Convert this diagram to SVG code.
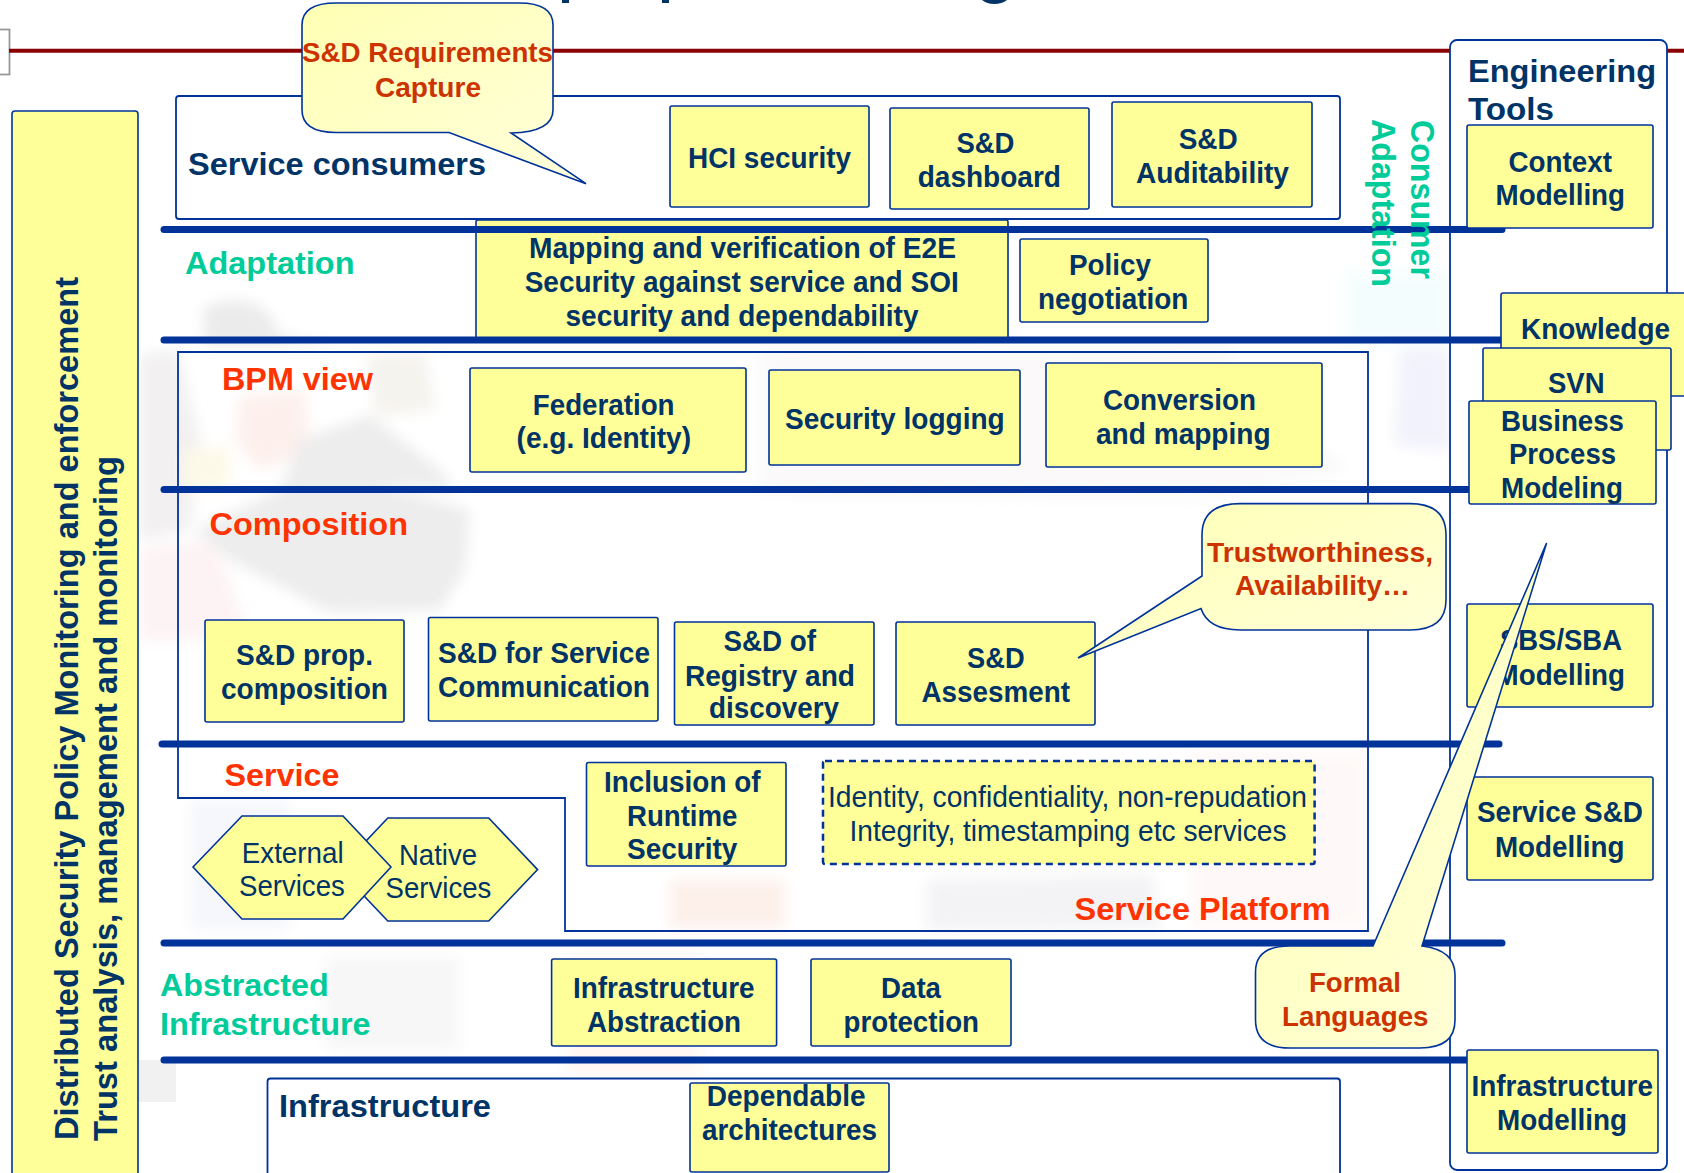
<svg xmlns="http://www.w3.org/2000/svg" width="1684" height="1173" viewBox="0 0 1684 1173">
<style>
text{font-family:"Liberation Sans",Arial,sans-serif;font-weight:700;font-size:29px;fill:#003366}
text:not([transform]){transform:translateY(0.5px)}
.r{font-weight:400}
.h{font-size:32px}
.red{fill:#ff3300;font-size:32px}
.org{fill:#cc3300;font-size:28px}
.grn{fill:#00cc99;font-size:32px}
.box{fill:#ffff99;stroke:#003399;stroke-width:1.6}
.out{fill:none;stroke:#003399;stroke-width:1.8}
.call{fill:url(#cg);stroke:#003399;stroke-width:1.6}
.band{stroke:#003399;stroke-width:7;stroke-linecap:round;fill:none}
</style>
<defs>
<linearGradient id="cg" x1="0" y1="0" x2="1" y2="1"><stop offset="0" stop-color="#ffffb4"/><stop offset="1" stop-color="#ffffdc"/></linearGradient>
<filter id="bl" x="-30%" y="-30%" width="160%" height="160%"><feGaussianBlur stdDeviation="7"/></filter>
</defs>
<rect width="1684" height="1173" fill="#ffffff"/>
<g id="ghost" filter="url(#bl)">
<path d="M140 355L178 350L200 440L190 530L140 540Z" fill="#f2f0f0"/>
<path d="M140 547L215 540L250 640L140 640Z" fill="#fdf3f4"/>
<path d="M203 310Q215 298 250 302Q275 312 278 335L340 345L205 345Z" fill="#ebebeb"/>
<path d="M240 397L305 390L310 450L260 470L235 440Z" fill="#fdf0ec"/>
<path d="M183 450L230 447L228 487L183 490Z" fill="#fdf9e8"/>
<path d="M367 355L425 352L435 410L375 415Z" fill="#f5f3ee"/>
<path d="M300 440L370 415L440 470L455 490L380 485L470 510L465 570L440 610L330 612L230 560L195 530L280 490Z" fill="#ededed"/>
<path d="M760 350L1230 345L1230 375L1350 470L1200 500L760 495Z" fill="#fbf9f9"/>
<path d="M1345 272L1450 272L1450 345L1345 345Z" fill="#f4fdfd"/>
<path d="M1400 350L1450 350L1450 450L1395 445Z" fill="#f1f2fb"/>
<path d="M670 880L785 880L785 928L670 928Z" fill="#fdf0ea"/>
<path d="M927 880L1152 875L1160 928L927 930Z" fill="#f3f2f4"/>
<path d="M566 953L702 953L702 1075L566 1075Z" fill="#fef7f4"/>
<path d="M325 957L460 957L460 1050L325 1050Z" fill="#f7f7f8"/>
<path d="M190 800L290 800L290 930L190 930Z" fill="#f6f7fc"/>
<path d="M1190 750L1370 750L1370 930L1190 930Z" fill="#fef9f8"/>
</g>
<rect id="ghost-corner" x="138" y="1060" width="38" height="42" fill="#f1f1f1"/>
<g id="title-fragments" fill="#003366">
<rect x="562" y="0" width="7" height="3"/><rect x="662" y="0" width="7" height="3"/><path d="M982 0H1007Q1002 4 994 4Q987 4 982 0Z"/>
</g>
<rect id="corner-box" x="-4" y="29.500" width="13.500" height="45" fill="#ffffff" stroke="#999999" stroke-width="1.800"/>
<line id="title-rule" x1="9" y1="50.800" x2="1684" y2="50.800" stroke="#8b0000" stroke-width="4"/>

<g id="engineering-tools"><rect x="1450" y="40" width="217" height="1130" rx="7" fill="#ffffff" stroke="#003399" stroke-width="1.800"/>
<text class="h" x="1468" y="81" textLength="188" lengthAdjust="spacingAndGlyphs">Engineering</text>
<text class="h" x="1468" y="119" textLength="86" lengthAdjust="spacingAndGlyphs">Tools</text></g>

<g id="left-bar"><rect class="box" x="12" y="111" width="126" height="1070" rx="3"/>
<text transform="translate(78,1140) rotate(-90)" style="font-size:34px" textLength="863" lengthAdjust="spacingAndGlyphs">Distributed Security Policy Monitoring and enforcement</text>
<text transform="translate(117,1141) rotate(-90)" style="font-size:34px" textLength="685" lengthAdjust="spacingAndGlyphs">Trust analysis, management and monitoring</text></g>

<g id="service-consumers"><rect class="out" x="176" y="96" width="1164" height="123" rx="3"/>
<text class="h" x="188" y="174" textLength="298" lengthAdjust="spacingAndGlyphs">Service consumers</text></g>
<g id="service-platform"><path class="out" d="M178 352H1368V931H565V798H178Z"/>
<text class="red" x="1074.500" y="919" textLength="256" lengthAdjust="spacingAndGlyphs">Service Platform</text></g>
<g id="infrastructure"><rect x="267.500" y="1078.500" width="1072.500" height="110" rx="3" fill="#ffffff" stroke="#003399" stroke-width="1.800"/>
<text class="h" x="279" y="1116" textLength="212" lengthAdjust="spacingAndGlyphs">Infrastructure</text></g>

<g id="mapping"><rect class="box" x="476" y="220" width="532" height="120" rx="2"/>
<text x="529" y="257" textLength="427" lengthAdjust="spacingAndGlyphs">Mapping and verification of E2E</text>
<text x="524.700" y="291" textLength="434" lengthAdjust="spacingAndGlyphs">Security against service and SOI</text>
<text x="565.500" y="325" textLength="353" lengthAdjust="spacingAndGlyphs">security and dependability</text></g>

<g id="connectors">
<line class="band" x1="164" y1="229.600" x2="1502" y2="229.600"/>
<line class="band" x1="164" y1="340" x2="1501" y2="340"/>
<line class="band" x1="164" y1="489.600" x2="1470" y2="489.600"/>
<line class="band" x1="162" y1="744" x2="1499" y2="744"/>
<line class="band" x1="164" y1="943" x2="1502" y2="943"/>
<line class="band" x1="164" y1="1060" x2="1470" y2="1060"/>
</g>

<g id="layer-labels">
<text class="grn" x="185" y="273" textLength="169.500" lengthAdjust="spacingAndGlyphs">Adaptation</text>
<text class="red" x="222" y="389" textLength="151" lengthAdjust="spacingAndGlyphs">BPM view</text>
<text class="red" x="209.500" y="534.400" textLength="198.500" lengthAdjust="spacingAndGlyphs">Composition</text>
<text class="red" x="224.500" y="785.500" textLength="115" lengthAdjust="spacingAndGlyphs">Service</text>
<text class="grn" x="160" y="995" textLength="168.700" lengthAdjust="spacingAndGlyphs">Abstracted</text>
<text class="grn" x="160" y="1034.600" textLength="210.600" lengthAdjust="spacingAndGlyphs">Infrastructure</text>
<text class="grn" transform="translate(1411,120) rotate(90)" style="font-size:34px" textLength="159" lengthAdjust="spacingAndGlyphs">Consumer</text>
<text class="grn" transform="translate(1372,119) rotate(90)" style="font-size:34px" textLength="168" lengthAdjust="spacingAndGlyphs">Adaptation</text>
</g>

<g id="hci"><rect class="box" x="670" y="106" width="199" height="101" rx="2"/>
<text x="688" y="167.500" textLength="163" lengthAdjust="spacingAndGlyphs">HCI security</text></g>
<g id="dashboard"><rect class="box" x="890" y="108" width="199" height="101" rx="2"/>
<text x="956.400" y="152.400" textLength="58" lengthAdjust="spacingAndGlyphs">S&amp;D</text>
<text x="917.700" y="186" textLength="143.300" lengthAdjust="spacingAndGlyphs">dashboard</text></g>
<g id="auditability"><rect class="box" x="1112" y="102" width="200" height="105" rx="2"/>
<text x="1178.700" y="148.700" textLength="59" lengthAdjust="spacingAndGlyphs">S&amp;D</text>
<text x="1136" y="182" textLength="153" lengthAdjust="spacingAndGlyphs">Auditability</text></g>
<g id="policy"><rect class="box" x="1020" y="239" width="188" height="83" rx="2"/>
<text x="1069" y="274" textLength="82" lengthAdjust="spacingAndGlyphs">Policy</text>
<text x="1038" y="308" textLength="150.400" lengthAdjust="spacingAndGlyphs">negotiation</text></g>
<g id="federation"><rect class="box" x="470" y="368" width="276" height="104" rx="2"/>
<text x="532.800" y="414" textLength="141.700" lengthAdjust="spacingAndGlyphs">Federation</text>
<text x="516.600" y="447" textLength="174.400" lengthAdjust="spacingAndGlyphs">(e.g. Identity)</text></g>
<g id="logging"><rect class="box" x="769" y="370" width="251" height="95" rx="2"/>
<text x="785" y="428" textLength="219.700" lengthAdjust="spacingAndGlyphs">Security logging</text></g>
<g id="conversion"><rect class="box" x="1046" y="363" width="276" height="104" rx="2"/>
<text x="1103" y="409" textLength="153" lengthAdjust="spacingAndGlyphs">Conversion</text>
<text x="1096" y="443" textLength="174.600" lengthAdjust="spacingAndGlyphs">and mapping</text></g>

<g id="context"><rect class="box" x="1467" y="125" width="186" height="103" rx="2"/>
<text x="1508.500" y="171" textLength="103.500" lengthAdjust="spacingAndGlyphs">Context</text>
<text x="1495.600" y="204" textLength="129.400" lengthAdjust="spacingAndGlyphs">Modelling</text></g>
<g id="knowledge"><rect class="box" x="1501" y="293" width="195" height="103" rx="2"/>
<text x="1521" y="338.700" textLength="149" lengthAdjust="spacingAndGlyphs">Knowledge</text></g>
<g id="svn"><rect class="box" x="1483" y="348" width="188" height="102" rx="2"/>
<text x="1548" y="392" textLength="56.600" lengthAdjust="spacingAndGlyphs">SVN</text></g>
<g id="bpm"><rect class="box" x="1469" y="401" width="187" height="103" rx="2"/>
<text x="1501" y="430" textLength="123" lengthAdjust="spacingAndGlyphs">Business</text>
<text x="1509" y="463" textLength="107" lengthAdjust="spacingAndGlyphs">Process</text>
<text x="1501" y="497" textLength="122" lengthAdjust="spacingAndGlyphs">Modeling</text></g>
<g id="sbs"><rect class="box" x="1467" y="604" width="186" height="103" rx="2"/>
<text x="1500" y="649.500" textLength="122" lengthAdjust="spacingAndGlyphs">SBS/SBA</text>
<text x="1495.600" y="684" textLength="129.400" lengthAdjust="spacingAndGlyphs">Modelling</text></g>
<g id="service-modelling"><rect class="box" x="1467" y="777" width="186" height="103" rx="2"/>
<text x="1477" y="821.600" textLength="166" lengthAdjust="spacingAndGlyphs">Service S&amp;D</text>
<text x="1495" y="856" textLength="129.500" lengthAdjust="spacingAndGlyphs">Modelling</text></g>
<g id="infra-modelling"><rect class="box" x="1467" y="1050" width="191" height="103" rx="2"/>
<text x="1471.400" y="1095.600" textLength="181.600" lengthAdjust="spacingAndGlyphs">Infrastructure</text>
<text x="1497" y="1129" textLength="130" lengthAdjust="spacingAndGlyphs">Modelling</text></g>

<g id="sd-prop"><rect class="box" x="205" y="620" width="199" height="102" rx="2"/>
<text x="236" y="664" textLength="137" lengthAdjust="spacingAndGlyphs">S&amp;D prop.</text>
<text x="221" y="698.500" textLength="167" lengthAdjust="spacingAndGlyphs">composition</text></g>
<g id="sd-comm"><rect class="box" x="428.500" y="617.500" width="229.500" height="103.500" rx="2"/>
<text x="438" y="662.500" textLength="212" lengthAdjust="spacingAndGlyphs">S&amp;D for Service</text>
<text x="438" y="696.700" textLength="212" lengthAdjust="spacingAndGlyphs">Communication</text></g>
<g id="sd-registry"><rect class="box" x="674.500" y="622" width="199.500" height="103" rx="2"/>
<text x="723.400" y="650.600" textLength="92.600" lengthAdjust="spacingAndGlyphs">S&amp;D of</text>
<text x="685" y="685" textLength="170" lengthAdjust="spacingAndGlyphs">Registry and</text>
<text x="709" y="717.500" textLength="130" lengthAdjust="spacingAndGlyphs">discovery</text></g>
<g id="sd-assesment"><rect class="box" x="896" y="622" width="199" height="103" rx="2"/>
<text x="967" y="667" textLength="57.600" lengthAdjust="spacingAndGlyphs">S&amp;D</text>
<text x="921.500" y="701" textLength="148.500" lengthAdjust="spacingAndGlyphs">Assesment</text></g>
<g id="runtime"><rect class="box" x="586.500" y="762.500" width="199.500" height="103.500" rx="2"/>
<text x="604" y="791.500" textLength="156.500" lengthAdjust="spacingAndGlyphs">Inclusion of</text>
<text x="627" y="825" textLength="110.400" lengthAdjust="spacingAndGlyphs">Runtime</text>
<text x="627" y="858" textLength="110.400" lengthAdjust="spacingAndGlyphs">Security</text></g>
<g id="identity"><rect x="823" y="761" width="491.600" height="103" rx="2" fill="#ffff99" stroke="#003399" stroke-width="2.500" stroke-dasharray="7 5"/>
<text class="r" x="828" y="806.700" textLength="479" lengthAdjust="spacingAndGlyphs">Identity, confidentiality, non-repudation</text>
<text class="r" x="849.500" y="840" textLength="437" lengthAdjust="spacingAndGlyphs">Integrity, timestamping etc services</text></g>
<g id="native"><polygon class="box" points="537.600,869.600 488.700,818 387.800,818 339,869.600 387.800,921 488.700,921"/>
<text class="r" x="399" y="864" textLength="78" lengthAdjust="spacingAndGlyphs">Native</text>
<text class="r" x="385.600" y="897.400" textLength="105.800" lengthAdjust="spacingAndGlyphs">Services</text></g>
<g id="external"><polygon class="box" points="193,867 242,816 343,816 391,867 343,919 242,919"/>
<text class="r" x="241.700" y="862" textLength="102" lengthAdjust="spacingAndGlyphs">External</text>
<text class="r" x="239" y="895" textLength="105.800" lengthAdjust="spacingAndGlyphs">Services</text></g>
<g id="infra-abstraction"><rect class="box" x="551.600" y="959" width="225" height="87" rx="2"/>
<text x="573" y="997.400" textLength="181.600" lengthAdjust="spacingAndGlyphs">Infrastructure</text>
<text x="587" y="1031" textLength="154" lengthAdjust="spacingAndGlyphs">Abstraction</text></g>
<g id="data-protection"><rect class="box" x="811" y="959" width="200" height="87" rx="2"/>
<text x="881" y="997.400" textLength="60" lengthAdjust="spacingAndGlyphs">Data</text>
<text x="843.600" y="1031" textLength="135.400" lengthAdjust="spacingAndGlyphs">protection</text></g>
<g id="dependable"><rect class="box" x="690" y="1083" width="199" height="89" rx="2"/>
<text x="706.700" y="1105" textLength="158.900" lengthAdjust="spacingAndGlyphs">Dependable</text>
<text x="702" y="1139" textLength="175" lengthAdjust="spacingAndGlyphs">architectures</text></g>

<g id="callout-requirements"><path class="call" d="M336 3H519Q553 3 553 25V110Q553 132 511 133L586 183.700L449 132.500H336Q302 132.500 302 110V25Q302 3 336 3Z"/>
<text class="org" x="302" y="61.300" textLength="251" lengthAdjust="spacingAndGlyphs">S&amp;D Requirements</text>
<text class="org" x="375" y="96" textLength="106" lengthAdjust="spacingAndGlyphs">Capture</text></g>
<g id="callout-trust"><path class="call" d="M1240 503.600H1410Q1446 503.600 1446 535V600Q1446 630 1410 630H1240Q1208 630 1201 608.600L1078 658L1202 576V535Q1202 503.600 1240 503.600Z"/>
<text class="org" x="1207" y="561" textLength="226" lengthAdjust="spacingAndGlyphs">Trustworthiness,</text>
<text class="org" x="1235" y="594" textLength="175" lengthAdjust="spacingAndGlyphs">Availability…</text></g>
<g id="callout-formal"><path class="call" d="M1290 946H1373L1546.600 543L1422 946Q1455 950 1455 975V1020Q1455 1048 1420 1048H1290Q1255.500 1048 1255.500 1020V972Q1255.500 946 1290 946Z"/>
<text class="org" x="1309" y="991" textLength="92" lengthAdjust="spacingAndGlyphs">Formal</text>
<text class="org" x="1282" y="1025" textLength="146.500" lengthAdjust="spacingAndGlyphs">Languages</text></g>
</svg>
